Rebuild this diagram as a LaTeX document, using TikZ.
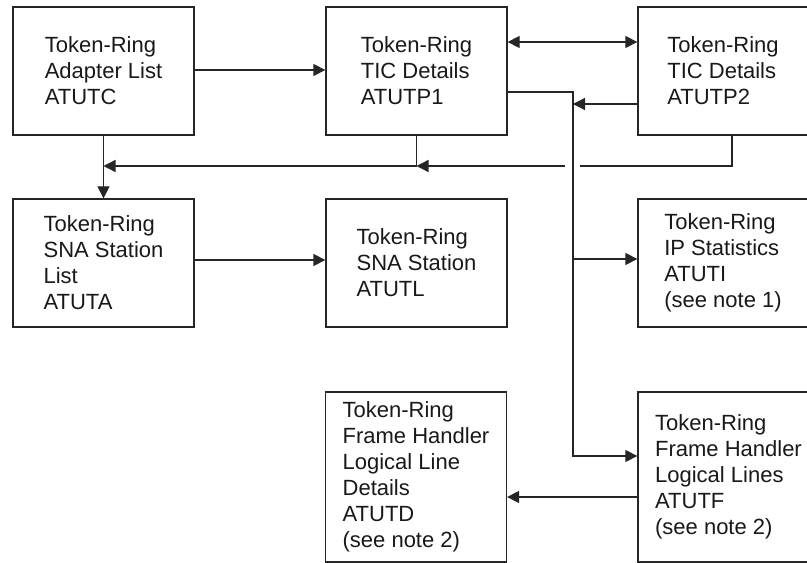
\documentclass[tikz,border=0pt]{standalone}
\usepackage{fontspec}
\setmainfont{Liberation Sans}
\usetikzlibrary{arrows.meta}
\begin{document}
\begin{tikzpicture}[x=1pt,y=1pt,
  box/.style={draw=black!85, line width=1.3pt, minimum width=181pt, inner sep=0pt,
     align=left, text=black!90, font=\fontsize{22pt}{26pt}\selectfont},
  shortbox/.style={box, minimum height=128pt},
  tallbox/.style={box, minimum height=170pt},
  edgebox/.style={minimum width=170pt},
  conn/.style={draw=black!85, line width=1.3pt},
  arr/.style={conn, -{Triangle[length=12pt,width=12pt]}},
  darr/.style={conn, {Triangle[length=12pt,width=12pt]}-{Triangle[length=12pt,width=12pt]}}]
\useasboundingbox (0,0) rectangle (807,563);
\clip (0,0) rectangle (807,563);
\fill[white] (0,0) rectangle (807,563);
\node[shortbox] (C)  at (103.5,492) {Token-Ring\\Adapter List\\ATUTC};
\node[shortbox] (P1) at (416.5,492) {Token-Ring\\TIC Details\\ATUTP1};
\node[shortbox, edgebox] (P2) at (723,492) {Token-Ring\\TIC Details\\ATUTP2};
\node[shortbox] (A)  at (103.5,300) {Token-Ring\\SNA Station\\List\\ATUTA};
\node[shortbox] (L)  at (416.5,300) {Token-Ring\\SNA Station\\ATUTL};
\node[shortbox, edgebox] (I)  at (723,300) {Token-Ring\\IP Statistics\\ATUTI\\(see note 1)};
\node[tallbox]  (D)  at (416,86)    {Token-Ring\\Frame Handler\\Logical Line\\Details\\ATUTD\\(see note 2)};
\node[tallbox]  (F)  at (728.5,86)  {Token-Ring\\Frame Handler\\Logical Lines\\ATUTF\\(see note 2)};
\coordinate (bus) at (573,107);
\coordinate (gapR) at (580,397);
\coordinate (gapL) at (565,397);
\draw[arr] ([yshift=1pt]C.east) -- ([yshift=1pt]P1.west);
\draw[darr] ([yshift=29pt]P1.east) -- ([yshift=29pt]P2.west);
\draw[arr] ([yshift=-21pt]P1.east) -| (bus) -- ([yshift=21pt]F.west);
\draw[arr] ([yshift=-33pt]P2.west) -- (bus |- 0,459);
\draw[arr] (bus |- 0,304) -- ([yshift=4pt]I.west);
\draw[arr] (C.south) -- (A.north);
\draw[arr] (P1.south) |- (C.south |- 0,397);
\draw[conn] ([xshift=9pt]P2.south) |- (gapR);
\draw[arr] (gapL) -- (P1.south |- 0,397);
\draw[arr] ([yshift=3pt]A.east) -- ([yshift=3pt]L.west);
\draw[arr] ([yshift=-20pt]F.west) -- ([yshift=-20pt]D.east);
\end{tikzpicture}
\end{document}
